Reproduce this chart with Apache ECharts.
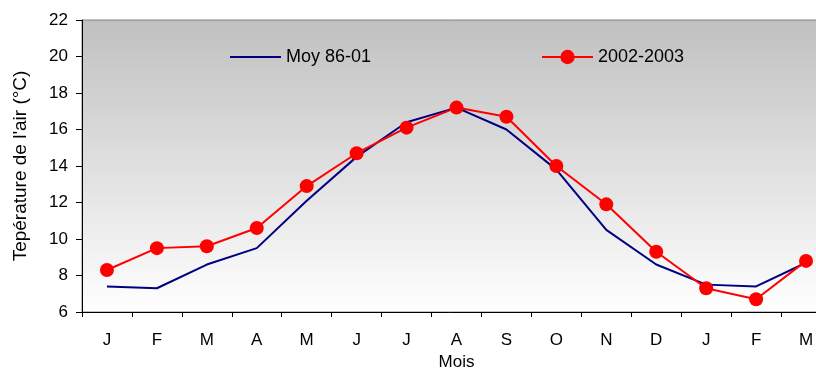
<!DOCTYPE html>
<html>
<head>
<meta charset="utf-8">
<script src="https://cdn.jsdelivr.net/npm/echarts@6/dist/echarts.min.js"></script>
<style>
  html, body { margin: 0; padding: 0; background: #ffffff; }
  #chart { width: 816px; height: 372px; }
</style>
</head>
<body>
<div id="chart"></div>
<script>
// Months from January 2002 to March 2003
const months = ['J', 'F', 'M', 'A', 'M', 'J', 'J', 'A', 'S', 'O', 'N', 'D', 'J', 'F', 'M'];
// Mean air temperature 1986-2001 (°C)
const moy8601 = [7.4, 7.3, 8.6, 9.5, 12.1, 14.5, 16.4, 17.2, 16.0, 13.8, 10.5, 8.6, 7.5, 7.4, 8.7];
// Air temperature 2002-2003 (°C)
const y20022003 = [8.3, 9.5, 9.6, 10.6, 12.9, 14.7, 16.1, 17.2, 16.7, 14.0, 11.9, 9.3, 7.3, 6.7, 8.8];

const font = 'Liberation Sans, Arial, sans-serif';
const chart = echarts.init(document.getElementById('chart'), null, { renderer: 'canvas' });

chart.setOption({
  animation: false,
  textStyle: { fontFamily: font },
  grid: {
    left: 82, top: 20, height: 292, width: 749,
    outerBoundsMode: 'none',
    containLabel: false,
    show: true,
    borderColor: '#808080',
    borderWidth: 1,
    backgroundColor: new echarts.graphic.LinearGradient(0, 0, 0, 1, [
      { offset: 0, color: '#c0c0c0' },
      { offset: 1, color: '#ffffff' }
    ])
  },
  legend: [
    {
      data: [{ name: 'Moy 86-01', icon: 'rect' }], left: 225, top: 43,
      itemWidth: 51, itemHeight: 2, itemGap: 0,
      textStyle: { color: '#000', fontSize: 18, fontFamily: font }
    },
    {
      data: ['2002-2003'], left: 536, top: 43,
      itemWidth: 51, itemHeight: 18, itemGap: 0,
      textStyle: { color: '#000', fontSize: 18, fontFamily: font }
    }
  ],
  xAxis: {
    type: 'category',
    data: months,
    boundaryGap: true,
    name: 'Mois',
    nameLocation: 'middle',
    nameGap: 42,
    nameTextStyle: { color: '#000', fontSize: 17, fontFamily: font },
    axisLine: { lineStyle: { color: '#000', width: 1 } },
    axisTick: { show: true, length: 5, lineStyle: { color: '#000' } },
    axisLabel: { color: '#000', fontSize: 17, margin: 20, fontFamily: font },
    splitLine: { show: false }
  },
  yAxis: {
    type: 'value',
    min: 6, max: 22, interval: 2,
    name: "Tepérature de l'air (°C)",
    nameLocation: 'middle',
    nameGap: 52,
    nameRotate: 90,
    nameTextStyle: { color: '#000', fontSize: 19, fontFamily: font },
    axisLine: { show: true, lineStyle: { color: '#000', width: 1 } },
    axisTick: { show: true, length: 6, lineStyle: { color: '#000' } },
    axisLabel: { color: '#000', fontSize: 17, margin: 14, fontFamily: font },
    splitLine: { show: false }
  },
  series: [
    {
      name: 'Moy 86-01',
      type: 'line',
      data: moy8601,
      symbol: 'none',
      lineStyle: { color: '#000080', width: 2 },
      itemStyle: { color: '#000080' },
      z: 2
    },
    {
      name: '2002-2003',
      type: 'line',
      data: y20022003,
      symbol: 'circle',
      symbolSize: 14,
      lineStyle: { color: '#ff0000', width: 2 },
      itemStyle: { color: '#ff0000' },
      z: 3
    }
  ]
});
</script>
</body>
</html>
